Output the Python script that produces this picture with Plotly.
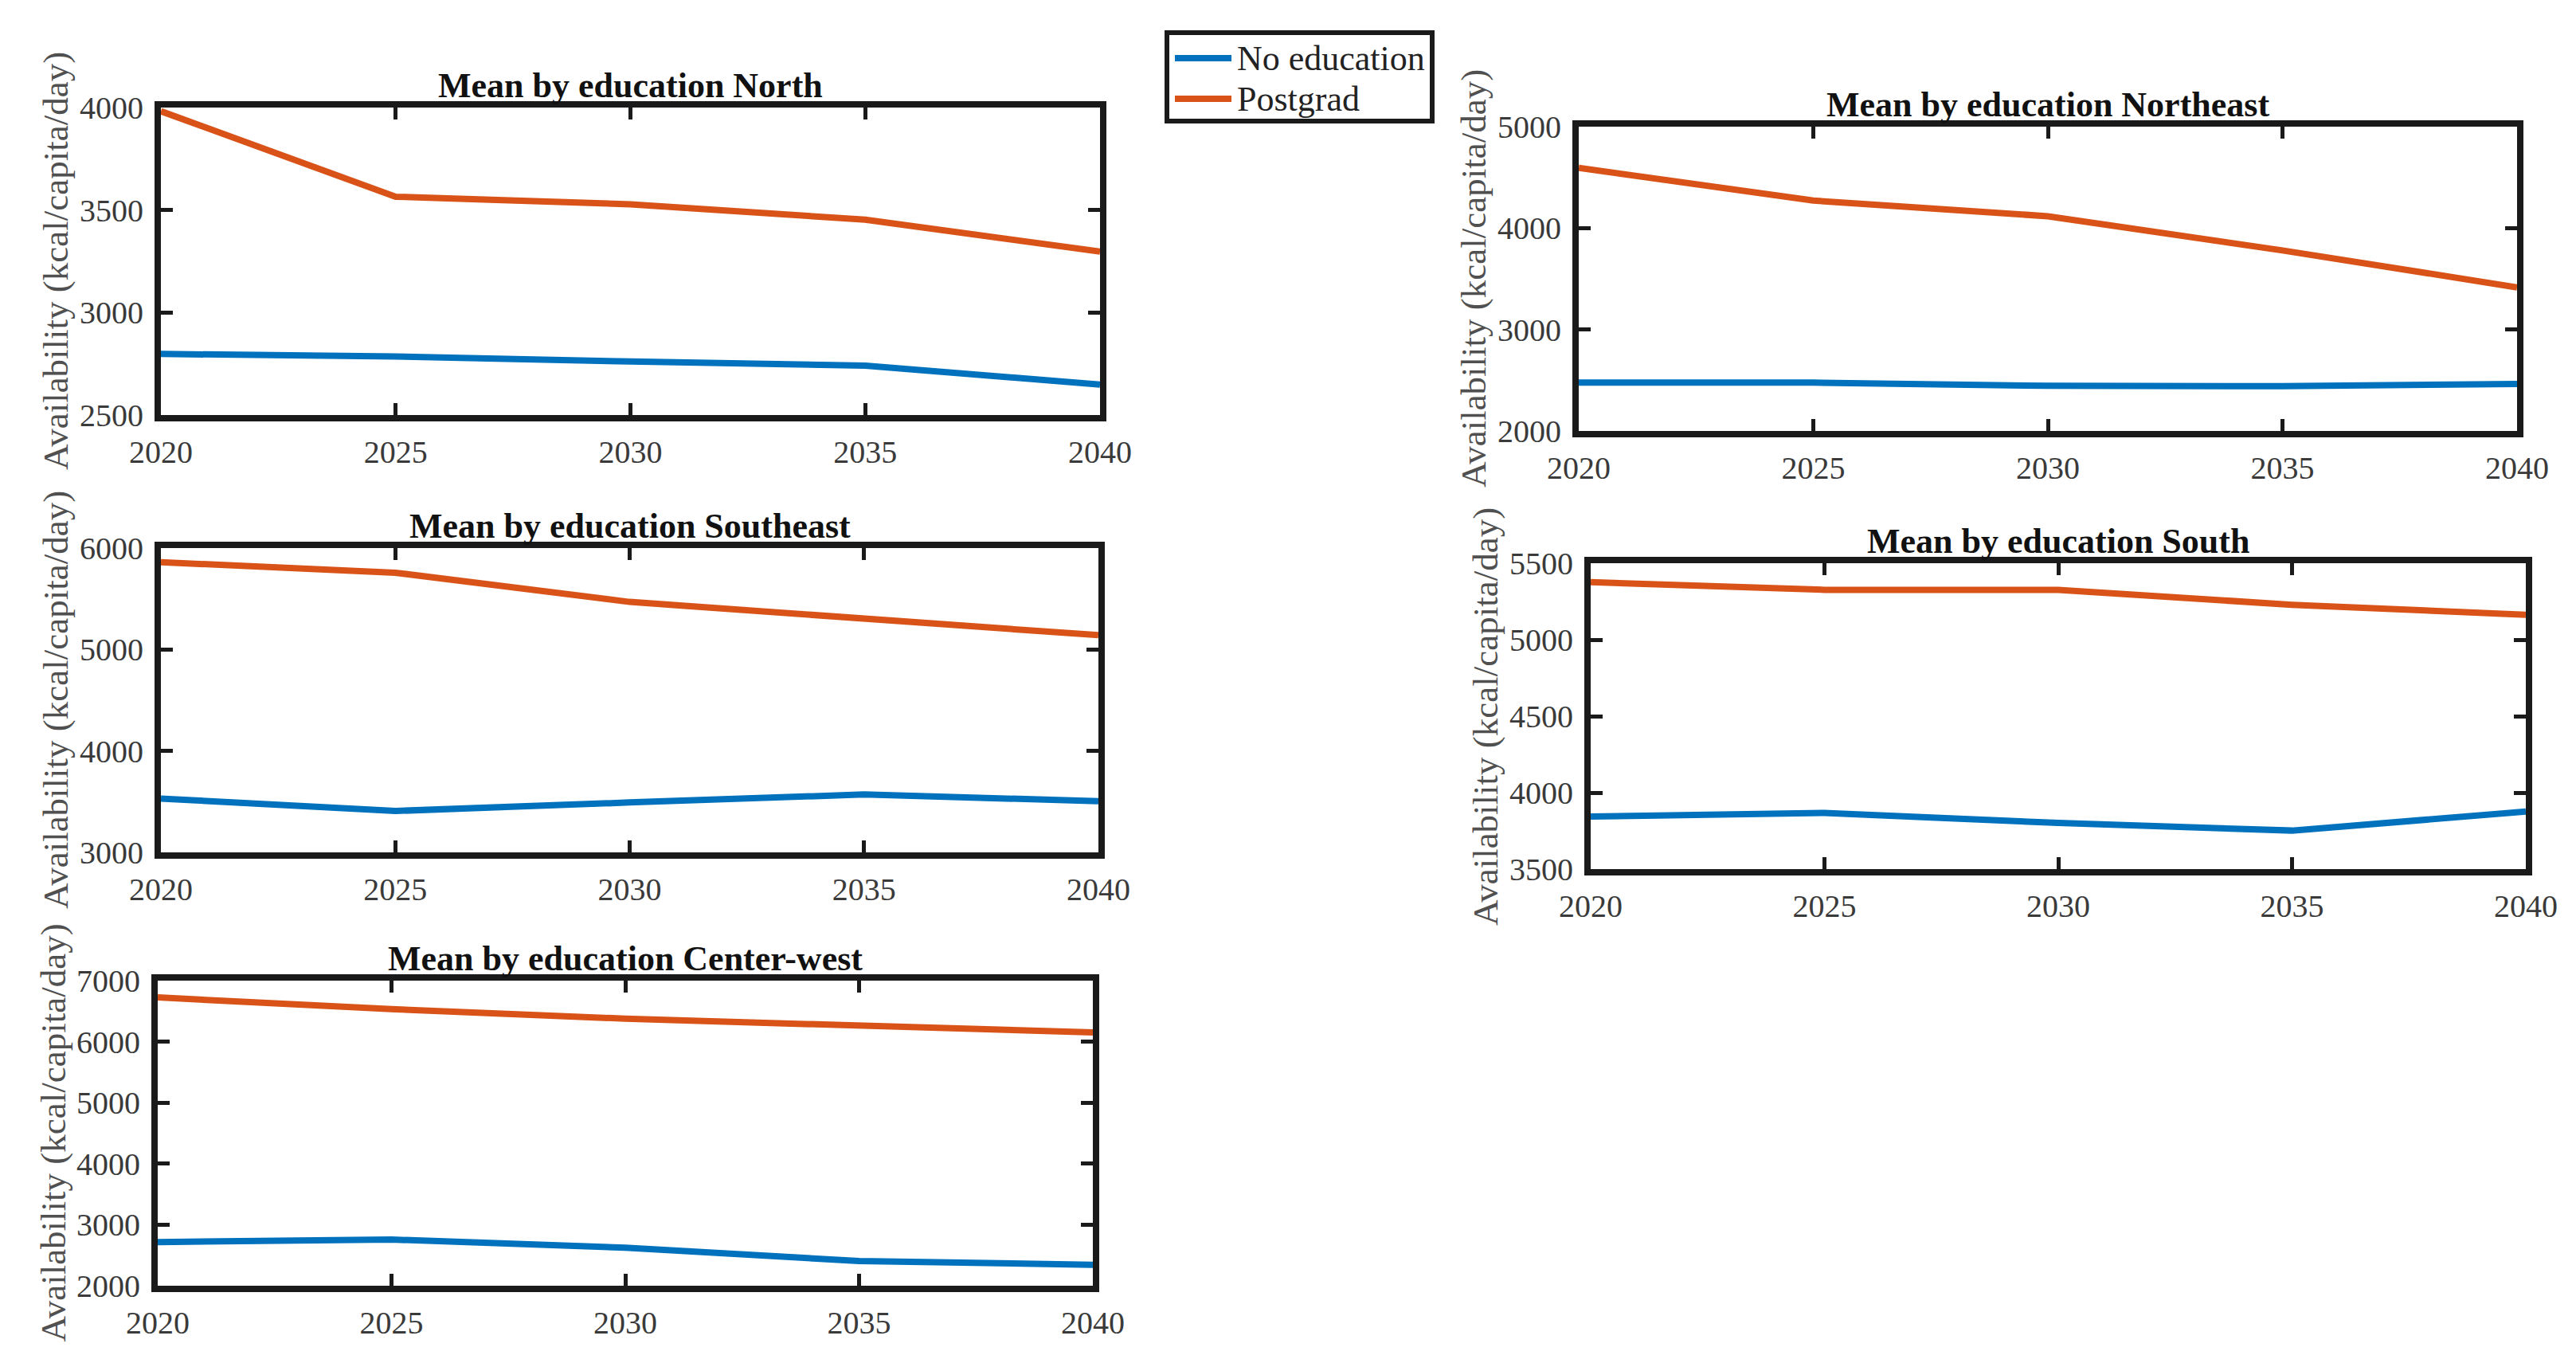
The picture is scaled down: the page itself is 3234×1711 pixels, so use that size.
import plotly.graph_objects as go

W, H = 3234, 1711

years = [2020, 2025, 2030, 2035, 2040]
regions = ["North", "Northeast", "Southeast", "South", "Center-west"]
series_names = ["No education", "Postgrad"]

north_noedu = [2798, 2786, 2761, 2741, 2649]
north_post = [3982, 3565, 3528, 3453, 3297]
northeast_noedu = [2477, 2477, 2445, 2442, 2463]
northeast_post = [4594, 4271, 4117, 3780, 3416]
southeast_noedu = [3531, 3408, 3492, 3571, 3505]
southeast_post = [5861, 5757, 5469, 5312, 5141]
south_noedu = [3844, 3867, 3802, 3752, 3876]
south_post = [5376, 5326, 5326, 5228, 5163]
centerwest_noedu = [2716, 2757, 2624, 2404, 2344]
centerwest_post = [6725, 6532, 6376, 6261, 6151]

noedu = [north_noedu, northeast_noedu, southeast_noedu, south_noedu, centerwest_noedu]
post = [north_post, northeast_post, southeast_post, south_post, centerwest_post]

y_ranges = [[2500, 4000], [2000, 5000], [3000, 6000], [3500, 5500], [2000, 7000]]
y_dticks = [500, 1000, 1000, 500, 1000]
x_ticks = [2020, 2025, 2030, 2035, 2040]

# plot-area boxes in pixels: left, right, top, bottom
boxes = [
    (194, 1373, 127, 513),
    (1974, 3152, 151, 533),
    (194, 1371, 680, 1062),
    (1989, 3163, 699, 1083),
    (190, 1364, 1223, 1606),
]

BLUE = "#0072BD"
ORANGE = "#D95319"
FRAME = "#1a1a1a"
SERIF = "Liberation Serif, Times New Roman, serif"

fig = go.Figure()
annotations = []
shapes = []
for i, reg in enumerate(regions):
    n = "" if i == 0 else str(i + 1)
    fig.add_trace(go.Scatter(x=years, y=noedu[i], mode="lines", name=series_names[0],
                             line=dict(color=BLUE, width=8), xaxis="x" + n, yaxis="y" + n,
                             showlegend=False))
    fig.add_trace(go.Scatter(x=years, y=post[i], mode="lines", name=series_names[1],
                             line=dict(color=ORANGE, width=8), xaxis="x" + n, yaxis="y" + n,
                             showlegend=False))
    l, r, t, b = boxes[i]
    axcommon = dict(showline=True, linecolor=FRAME, linewidth=8, mirror="ticks",
                    ticks="inside", ticklen=15, tickwidth=5, tickcolor=FRAME,
                    showgrid=False, zeroline=False, automargin=False,
                    tickfont=dict(family=SERIF, size=40, color="#3a3a3a"))
    fig.update_layout(**{
        "xaxis" + n: dict(domain=[l / W, r / W], anchor="y" + n, range=[2020, 2040],
                          tickvals=x_ticks, ticklabelstandoff=4, **axcommon),
        "yaxis" + n: dict(domain=[1 - b / H, 1 - t / H], anchor="x" + n, range=y_ranges[i],
                          dtick=y_dticks[i], tick0=0, ticklabelstandoff=6, **axcommon),
    })
    annotations.append(dict(text="<b>Mean by education " + reg + "</b>", xref="paper", yref="paper",
                            x=(l + r) / 2 / W, y=1 - (t - 1) / H, xanchor="center", yanchor="bottom",
                            showarrow=False, font=dict(family=SERIF, size=44, color="#111")))
    annotations.append(dict(text="Availability (kcal/capita/day)", xref="paper", yref="paper",
                            x=(l - 132) / W, y=1 - (t + b) / 2 / H, xanchor="center", yanchor="middle",
                            textangle=-90, showarrow=False,
                            font=dict(family=SERIF, size=45, color="#505050")))

# legend box (drawn manually to match the long line samples of the original)
lg_l, lg_r, lg_t, lg_b = 1457, 1790, 33, 144
shapes.append(dict(type="rect", xref="paper", yref="paper",
                   x0=lg_l / W, x1=lg_r / W, y0=1 - lg_b / H, y1=1 - lg_t / H,
                   line=dict(color=FRAME, width=6), fillcolor="white"))
legend_rows = [(series_names[0], BLUE, 65), (series_names[1], ORANGE, 116)]
for name, col, yy in legend_rows:
    shapes.append(dict(type="line", xref="paper", yref="paper",
                       x0=1467 / W, x1=1538 / W, y0=1 - yy / H, y1=1 - yy / H,
                       line=dict(color=col, width=8)))
    annotations.append(dict(text=name, xref="paper", yref="paper", x=1543 / W, y=1 - yy / H,
                            xanchor="left", yanchor="middle", showarrow=False,
                            font=dict(family=SERIF, size=44, color="#222")))

fig.update_layout(
    width=W, height=H, margin=dict(l=0, r=0, t=0, b=0, autoexpand=False),
    paper_bgcolor="white", plot_bgcolor="white",
    annotations=annotations, shapes=shapes,
    showlegend=False,
)

fig.write_html("out.html")
